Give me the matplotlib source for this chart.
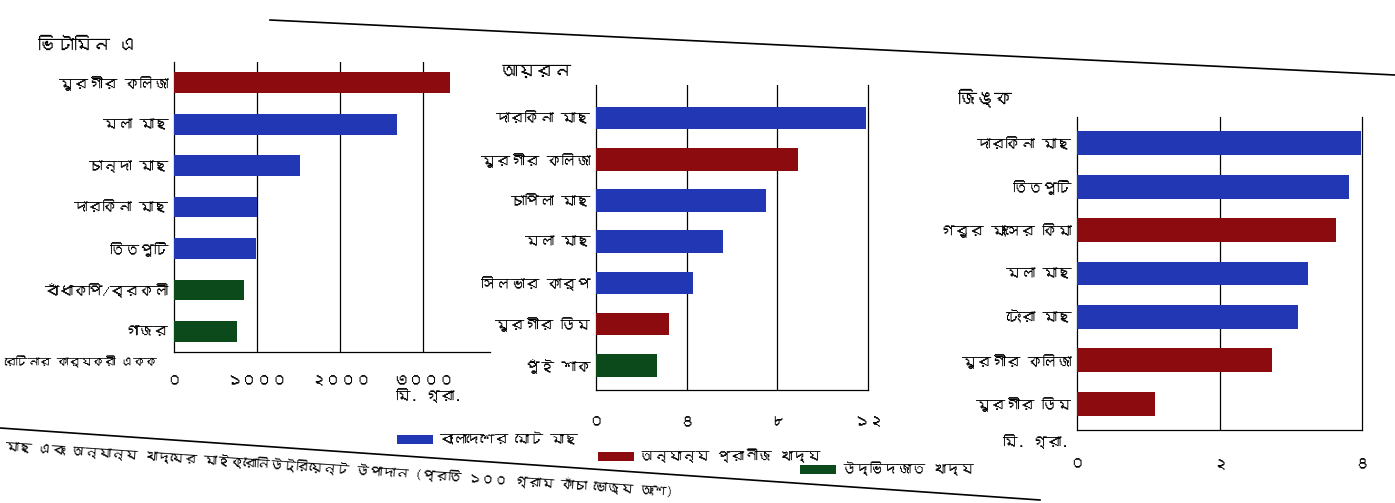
import matplotlib
matplotlib.use("Agg")
import matplotlib.pyplot as plt
from matplotlib import font_manager as fm
from matplotlib.ft2font import FT2Font
from matplotlib.patches import Patch
from matplotlib.lines import Line2D

# ---------------- data ----------------
vita_labels = ["মুরগীর কলিজা", "মলা মাছ", "চান্দা মাছ", "দারকিনা মাছ", "তিতপুটি", "বাঁধাকপি/ব্রকলী", "গাজর"]
vita_values = [3320, 2680, 1510, 1000, 990, 840, 760]
vita_groups = ["animal", "fish", "fish", "fish", "fish", "plant", "plant"]
vita_ticks = [0, 1000, 2000, 3000]
vita_ticklabels = ["০", "১০০০", "২০০০", "৩০০০"]

iron_labels = ["দারকিনা মাছ", "মুরগীর কলিজা", "চাপিলা মাছ", "মলা মাছ", "সিলভার কার্প", "মুরগীর ডিম", "পুঁই শাক"]
iron_values = [11.9, 8.9, 7.5, 5.6, 4.3, 3.2, 2.7]
iron_groups = ["fish", "animal", "fish", "fish", "fish", "animal", "plant"]
iron_ticks = [0, 4, 8, 12]
iron_ticklabels = ["০", "৪", "৮", "১২"]

zinc_labels = ["দারকিনা মাছ", "তিতপুটি", "গরুর মাংসের কিমা", "মলা মাছ", "টেংরা মাছ", "মুরগীর কলিজা", "মুরগীর ডিম"]
zinc_values = [3.98, 3.82, 3.63, 3.24, 3.1, 2.74, 1.1]
zinc_groups = ["fish", "fish", "animal", "fish", "fish", "animal", "animal"]
zinc_ticks = [0, 2, 4]
zinc_ticklabels = ["০", "২", "৪"]

legend_keys = ["fish", "animal", "plant"]
legend_labels = ["বাংলাদেশের মোট মাছ", "অন্যান্য প্রাণীজ খাদ্য", "উদ্ভিদজাত খাদ্য"]
caption = "মাছ এবং অন্যান্য খাদ্যের মাইক্রোনিউট্রিয়েন্ট উপাদান (প্রতি ১০০ গ্রাম কাঁচা ভোজ্য অংশ)"

colors = {"fish": "#2137b3", "animal": "#8c0b0e", "plant": "#0c4a1c"}

# ---------------- fonts ----------------
def bengali_fonts():
    names = []
    for f in fm.fontManager.ttflist:
        try:
            cm = FT2Font(f.fname).get_charmap()
            if 0x0995 in cm and f.name not in names:
                names.append(f.name)
        except Exception:
            pass
    return names

fam = bengali_fonts() + ["DejaVu Sans"]
plt.rcParams["font.family"] = fam

fig = plt.figure(figsize=(13.95, 5.03), dpi=100)
W, H = 1395.0, 503.0

def fx(px):
    return px / W

def fy(py):
    return 1 - py / H

LFS = 10.5

def panel(left, right, top, bottom, labels, values, groups, ticks, ticklabels,
          xmax, ylim, barh, grid_ticks, right_spine, tickpad):
    ax = fig.add_axes([fx(left), fy(bottom), fx(right - left), (bottom - top) / H])
    y = list(range(len(labels)))
    ax.barh(y, values, height=barh, color=[colors[g] for g in groups], zorder=3)
    ax.set_xlim(0, xmax)
    ax.set_ylim(*ylim)
    ax.set_yticks(y)
    ax.set_yticklabels(labels, fontsize=LFS)
    ax.set_xticks(ticks)
    ax.set_xticklabels(ticklabels, fontsize=11)
    ax.tick_params(axis="both", length=0)
    ax.tick_params(axis="y", pad=4)
    ax.tick_params(axis="x", pad=tickpad)
    for gx in grid_ticks:
        ax.axvline(gx, color="black", lw=0.9, zorder=1)
    ax.spines["top"].set_visible(False)
    ax.spines["right"].set_visible(right_spine)
    for s in ["left", "bottom", "right"]:
        ax.spines[s].set_linewidth(0.9)
    ax.set_facecolor("none")
    return ax

panel(174, 490, 62, 352, vita_labels, vita_values, vita_groups, vita_ticks, vita_ticklabels,
      3800, (6.5, -0.5), 0.5, [1000, 2000, 3000], False, 16)
panel(596, 868, 85, 390, iron_labels, iron_values, iron_groups, iron_ticks, iron_ticklabels,
      12, (6.6, -0.8), 0.55, [4, 8], True, 18)
panel(1077, 1362, 117, 430, zinc_labels, zinc_values, zinc_groups, zinc_ticks, zinc_ticklabels,
      4, (6.6, -0.6), 0.55, [2], True, 20)

# panel titles
fig.text(fx(38), fy(45), "ভিটামিন এ", fontsize=13, va="center", ha="left")
fig.text(fx(500), fy(72), "আয়রন", fontsize=13, va="center", ha="left")
fig.text(fx(958), fy(98), "জিঙ্ক", fontsize=13, va="center", ha="left")

# unit labels
fig.text(fx(4), fy(362), "রেটিনার কার্যকরী একক", fontsize=8.5, va="center", ha="left")
fig.text(fx(396), fy(396), "মি. গ্রা.", fontsize=10.5, va="center", ha="left")
fig.text(fx(1003), fy(442), "মি. গ্রা.", fontsize=10.5, va="center", ha="left")

# page rules
fig.add_artist(Line2D([fx(270), fx(1395)], [fy(20), fy(75)], color="black", lw=1.2))
fig.add_artist(Line2D([fx(0), fx(1040)], [fy(428), fy(500)], color="black", lw=1.2))

# legend (one entry per block, following the slant of the page)
legend_pos = [(397, 440), (598, 456), (800, 469)]
for k, lab, (px, py) in zip(legend_keys, legend_labels, legend_pos):
    lg = fig.legend([Patch(facecolor=colors[k], edgecolor="none")], [lab], loc="center left",
                    bbox_to_anchor=(fx(px), fy(py)), frameon=False, fontsize=10,
                    handlelength=2.6, handleheight=0.6, handletextpad=0.4, borderpad=0,
                    borderaxespad=0)

# caption
fig.text(fx(5), fy(446), caption, fontsize=9.5, va="center", ha="left", rotation=-3.9,
         rotation_mode="anchor")

fig.savefig("out.png", dpi=100)
